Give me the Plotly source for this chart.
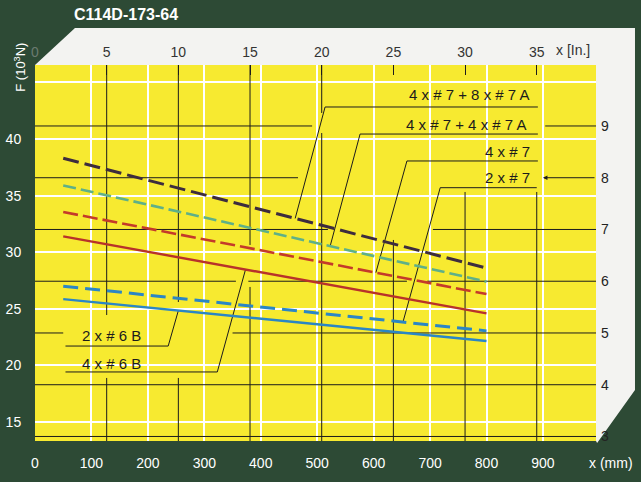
import numpy as np
import plotly.graph_objects as go

# ---------------- data ----------------
x_mm = [50, 800]                       # extent of every curve (mm)
f_dark = [38.3, 28.6]                  # 4 x # 7 + 8 x # 7 A  (10^3 N)
f_green = [35.9, 27.4]                 # 4 x # 7 + 4 x # 7 A
f_red_dash = [33.55, 26.3]             # 4 x # 7
f_red = [31.4, 24.6]                   # red solid
f_blue_dash = [27.0, 23.05]            # blue dashed
f_blue = [25.85, 22.15]                # blue solid

mm_ticks = [0, 100, 200, 300, 400, 500, 600, 700, 800, 900]
kn_ticks = [15, 20, 25, 30, 35, 40]
inch_ticks = [0, 5, 10, 15, 20, 25, 30, 35]
klbf_ticks = [3, 4, 5, 6, 7, 8, 9]

# ---------------- layout constants ----------------
X_RANGE = [0, 994]
Y_RANGE = [13.32, 46.54]
K0, KS = 13.72, 4.572                  # right scale: value 3 -> K0 kN, step KS
def kn_of_k(k):
    return K0 + (k - 3) * KS
Y2_RANGE = [3 + (Y_RANGE[0] - K0) / KS, 3 + (Y_RANGE[1] - K0) / KS]

GREEN_BG = "#2d4a35"
YELLOW = "#f7ea30"
PANEL = "#f3f3f1"
INK = "#1c1c1c"
FONT = "Liberation Sans, Arial, sans-serif"

series = {
    "dark": dict(y=f_dark, color="#3d2c3e", width=3, dash="16px,6px"),
    "green": dict(y=f_green, color="#5fb088", width=2.6, dash="13px,5px"),
    "red_dash": dict(y=f_red_dash, color="#c43a2a", width=2.6, dash="15px,5px"),
    "red": dict(y=f_red, color="#b8322a", width=2.4, dash="solid"),
    "blue_dash": dict(y=f_blue_dash, color="#2b86c5", width=3, dash="15px,7px"),
    "blue": dict(y=f_blue, color="#2b86c5", width=2.4, dash="solid"),
}

# black reference lines (segments, with breaks as in the print)
V_SEGS = {5: [(24.45, Y_RANGE[1]), (Y_RANGE[0], 18.89)],
          10: [(25.60, Y_RANGE[1]), (Y_RANGE[0], 18.89)],
          15: [(30.64, Y_RANGE[1]), (Y_RANGE[0], 26.93)],
          20: [(42.30, Y_RANGE[1]), (Y_RANGE[0], 40.53)],
          25: [(Y_RANGE[0], 31.08)],
          30: [(Y_RANGE[0], 35.32)],
          35: [(Y_RANGE[0], 35.32)]}
H_SEGS = {9: [(0, 491), (904, X_RANGE[1])],
          8: [(0, 466)],
          7: [(0, 519), (705, X_RANGE[1])],
          6: [(0, 356), (378, 659), (695, X_RANGE[1])],
          5: [(0, 50), (350, X_RANGE[1])],
          4: [(0, X_RANGE[1])],
          3: [(0, X_RANGE[1])]}

# callouts: (text, series key, text x, text y, underline y, underline from, underline to, target x, anchor)
callouts = [
    ("4 x # 7 + 8 x # 7 A", "dark", 880, 43.9, 42.83, 514, 891, 461, "right"),
    ("4 x # 7 + 4 x # 7 A", "green", 876, 41.3, 40.44, 576, 891, 523, "right"),
    ("4 x # 7", "red_dash", 880, 38.94, 38.06, 659, 891, 604, "right"),
    ("2 x # 7", "blue_dash", 880, 36.6, 35.70, 718, 889, 652, "right"),
    ("2 x # 6 B", "blue", 80, 22.6, 21.71, 54, 236, 254, "left"),
    ("4 x # 6 B", "red", 80, 20.2, 19.42, 54, 323, 373, "left"),
]

fig = go.Figure()

# black reference grid
bx, by = [], []
for inch, segs in V_SEGS.items():
    for a, b in segs:
        bx += [inch * 25.4, inch * 25.4, None]
        by += [a, b, None]
for k, segs in H_SEGS.items():
    for a, b in segs:
        bx += [a, b, None]
        by += [kn_of_k(k), kn_of_k(k), None]
fig.add_trace(go.Scatter(x=bx, y=by, mode="lines", line=dict(color=INK, width=1),
                         hoverinfo="skip", showlegend=False))

# leader lines
lx, ly = [], []
for text, key, tx, ty, uy, u0, u1, tgt, anc in callouts:
    end_y = float(np.interp(tgt, x_mm, series[key]["y"]))
    if anc == "right":
        lx += [u1, u0, tgt, None]
    else:
        lx += [u0, u1, tgt, None]
    ly += [uy, uy, end_y, None]
fig.add_trace(go.Scatter(x=lx, y=ly, mode="lines", line=dict(color=INK, width=1),
                         hoverinfo="skip", showlegend=False))

# data curves
for key, s in series.items():
    fig.add_trace(go.Scatter(x=x_mm, y=s["y"], mode="lines",
                             line=dict(color=s["color"], width=s["width"], dash=s["dash"]),
                             showlegend=False))

# invisible trace for secondary axes
fig.add_trace(go.Scatter(x=[inch_ticks[0]], y=[klbf_ticks[0]], xaxis="x2", yaxis="y2",
                         mode="markers", marker=dict(opacity=0), hoverinfo="skip",
                         showlegend=False))

annotations = []
for text, key, tx, ty, uy, u0, u1, tgt, anc in callouts:
    annotations.append(dict(x=tx, y=ty, xref="x", yref="y", text=text, showarrow=False,
                            xanchor=anc, yanchor="middle",
                            font=dict(family=FONT, size=15, color=INK)))
# arrow on the 8 line
annotations.append(dict(x=900, y=kn_of_k(8), ax=X_RANGE[1], ay=kn_of_k(8), xref="x", yref="y",
                        axref="x", ayref="y", text="", showarrow=True, arrowhead=2,
                        arrowsize=0.9, arrowwidth=1, arrowcolor=INK))
annotations += [
    dict(x=0.066, y=1.133, xref="paper", yref="paper", text="<b>C114D-173-64</b>",
         showarrow=False, xanchor="left", yanchor="middle",
         font=dict(family=FONT, size=16, color="white")),
    dict(x=-0.027, y=0.995, xref="paper", yref="paper", text="F (10<sup>3</sup>N)",
         textangle=-90, showarrow=False, xanchor="center", yanchor="middle",
         font=dict(family=FONT, size=13, color="white")),
    dict(x=0.959, y=1.040, xref="paper", yref="paper", text="x [In.]", showarrow=False,
         xanchor="center", yanchor="middle", font=dict(family=FONT, size=14, color="#333333")),
    dict(x=1.027, y=-0.0585, xref="paper", yref="paper", text="x (mm)", showarrow=False,
         xanchor="center", yanchor="middle", font=dict(family=FONT, size=14, color="white")),
]

panel = dict(type="path", xref="paper", yref="paper", layer="below",
             path="M 0,1 L 0.0713,1.0984 L 1.0695,1.0984 L 1.0695,0.1356 "
                  "L 1.002,-0.005 L 1,0 L 1,1 Z",
             fillcolor=PANEL, line=dict(width=0))

inch_text = ["<span style='color:#6b7a70'>0</span>"] + [str(v) for v in inch_ticks[1:]]

fig.update_layout(
    width=641, height=482,
    margin=dict(l=35, r=45, t=65, b=41, autoexpand=False),
    paper_bgcolor=GREEN_BG, plot_bgcolor=YELLOW,
    font=dict(family=FONT),
    shapes=[panel],
    annotations=annotations,
    xaxis=dict(range=X_RANGE, tickvals=mm_ticks, ticktext=[str(v) for v in mm_ticks],
               showgrid=True, gridcolor="white", gridwidth=1.6, zeroline=False,
               showline=False, ticks="outside", ticklen=9, tickcolor=GREEN_BG,
               automargin=False, fixedrange=True,
               tickfont=dict(family=FONT, size=14, color="white")),
    yaxis=dict(range=Y_RANGE, tickvals=kn_ticks, ticktext=[str(v) for v in kn_ticks],
               showgrid=True, gridcolor="white", gridwidth=1.6, zeroline=False,
               showline=False, ticks="outside", ticklen=10, tickcolor=GREEN_BG,
               minor=dict(tickvals=[45], showgrid=True, gridcolor="white", gridwidth=1.6,
                          ticks=""),
               automargin=False, fixedrange=True,
               tickfont=dict(family=FONT, size=14, color="white")),
    xaxis2=dict(overlaying="x", side="top", anchor="y",
                range=[X_RANGE[0] / 25.4, X_RANGE[1] / 25.4],
                tickvals=inch_ticks, ticktext=inch_text, showgrid=False, zeroline=False,
                ticks="inside", ticklen=10, tickcolor=INK, tickwidth=1,
                ticklabelstandoff=4, automargin=False, fixedrange=True,
                tickfont=dict(family=FONT, size=14, color="#333333")),
    yaxis2=dict(overlaying="y", side="right", anchor="x", range=Y2_RANGE,
                tickvals=klbf_ticks, ticktext=[str(v) for v in klbf_ticks],
                showgrid=False, zeroline=False, ticks="", ticklabelstandoff=4,
                automargin=False, fixedrange=True,
                tickfont=dict(family=FONT, size=14, color="#222222")),
)

fig.write_html("out.html", config={"displayModeBar": False},
               post_script="document.body.style.margin='0';document.body.style.background='%s';" % GREEN_BG)
